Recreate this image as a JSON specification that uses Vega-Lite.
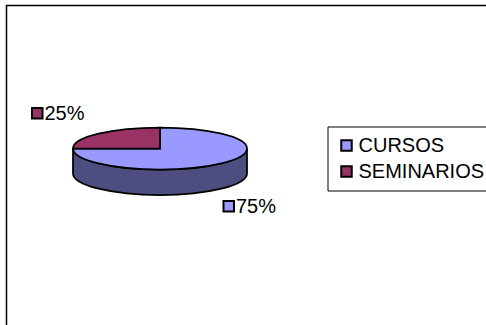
{
  "$schema": "https://vega.github.io/schema/vega-lite/v6.json",
  "autosize": "none",
  "width": 481,
  "height": 322,
  "padding": {"left": 6.5, "top": 5.5, "right": 0, "bottom": 0},
  "background": "white",
  "view": {"stroke": "black", "strokeWidth": 1.5, "fill": "white"},
  "data": {"values": [
    {"tipo": "CURSOS", "porcentaje": 0.75},
    {"tipo": "SEMINARIOS", "porcentaje": 0.25}
  ]},
  "resolve": {"scale": {"shape": "independent"}},
  "layer": [
    {
      "transform": [{"filter": "datum.tipo === 'CURSOS'"}],
      "mark": {"type": "point", "shape": "M-174,-18L-174,7A87,21.5,0,0,0,0,7L0,-18A87,21,0,0,1,-174,-18Z", "size": 4, "filled": true, "fill": "#4D4D80", "stroke": "black", "strokeWidth": 1.75, "opacity": 1}
    },
    {
      "mark": {"type": "point", "size": 4, "filled": true, "stroke": "black", "strokeWidth": 1.75, "opacity": 1},
      "encoding": {
        "shape": {"field": "tipo", "type": "nominal", "legend": null,
          "scale": {"domain": ["CURSOS", "SEMINARIOS"], "range": ["M-87,-18L-87,-39A87,21,0,1,1,-174,-18Z", "M-87,-18L-174,-18A87,21,0,0,1,-87,-39Z"]}},
        "color": {"field": "tipo", "type": "nominal",
          "scale": {"domain": ["CURSOS", "SEMINARIOS"], "range": ["#9999FF", "#993366"]},
          "legend": {
            "title": null, "orient": "none", "legendX": 321, "legendY": 121,
            "fillColor": "white", "strokeColor": "black", "padding": 9,
            "symbolType": "square", "symbolSize": 110, "symbolStrokeColor": "black", "symbolStrokeWidth": 2,
            "labelFont": "Liberation Sans", "labelFontSize": 20, "labelColor": "black", "labelOffset": 2, "labelLimit": 0,
            "rowPadding": 6,
            "encode": {"symbols": {"update": {"shape": {"value": "square"}, "stroke": {"value": "black"}, "strokeWidth": {"value": 2}, "opacity": {"value": 1}}}}
          }}
      }
    },
    {
      "mark": {"type": "point", "size": 4, "filled": true, "stroke": "black", "strokeWidth": 2, "opacity": 1},
      "encoding": {
        "shape": {"field": "tipo", "type": "nominal", "legend": null,
          "scale": {"domain": ["CURSOS", "SEMINARIOS"], "range": ["M-23.5,34.5h10.5v10.5h-10.5Z", "M-215,-58.5h10.5v10.5h-10.5Z"]}},
        "color": {"field": "tipo", "type": "nominal"}
      }
    },
    {
      "transform": [{"filter": "datum.tipo === 'SEMINARIOS'"}],
      "mark": {"type": "text", "align": "left", "baseline": "alphabetic", "dx": -202.5, "dy": -47, "font": "Liberation Sans", "fontSize": 20, "color": "black"},
      "encoding": {"text": {"field": "porcentaje", "type": "quantitative", "format": ".0%"}}
    },
    {
      "transform": [{"filter": "datum.tipo === 'CURSOS'"}],
      "mark": {"type": "text", "align": "left", "baseline": "alphabetic", "dx": -11, "dy": 46, "font": "Liberation Sans", "fontSize": 20, "color": "black"},
      "encoding": {"text": {"field": "porcentaje", "type": "quantitative", "format": ".0%"}}
    }
  ]
}
